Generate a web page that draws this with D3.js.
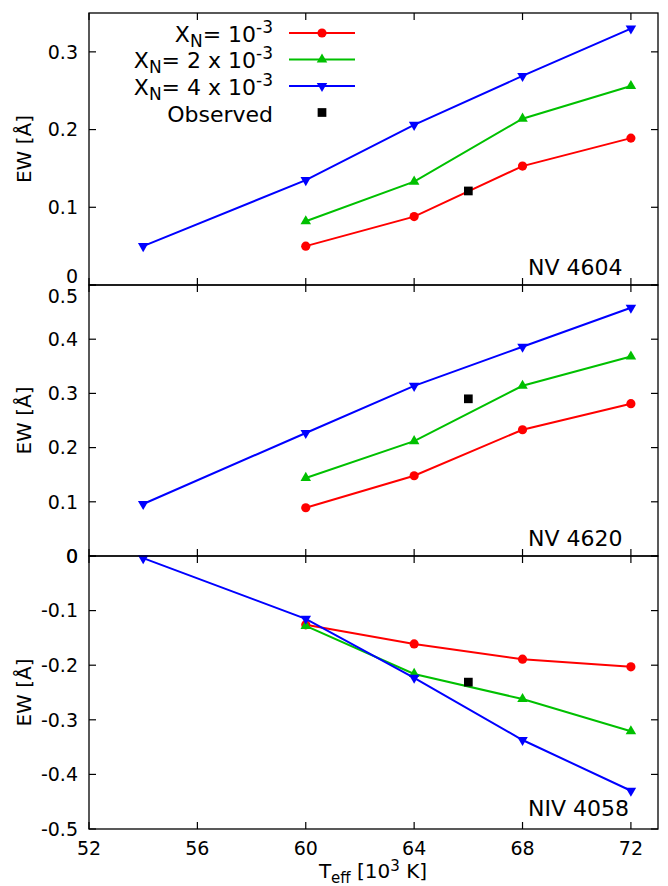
<!DOCTYPE html>
<html>
<head>
<meta charset="utf-8">
<script src="https://cdn.jsdelivr.net/npm/d3@7"></script>
<style>
  body { margin: 0; background: #fff; }
  text { font-family: "DejaVu Sans", sans-serif; fill: #000; }
</style>
</head>
<body>
<div id="chart"></div>
<script>
// temperatures (10^3 K)
const teffModel = [60, 64, 68, 72];
const teffHot = [54, 60, 64, 68, 72];
const teffObs = 66;
const xTicks = [52, 56, 60, 64, 68, 72];

// NV 4604
const nv4604_1 = [0.050, 0.088, 0.153, 0.189];
const nv4604_2 = [0.082, 0.133, 0.214, 0.256];
const nv4604_4 = [0.050, 0.135, 0.206, 0.269, 0.330];
const nv4604_obs = 0.121;

// NV 4620
const nv4620_1 = [0.089, 0.148, 0.233, 0.281];
const nv4620_2 = [0.144, 0.212, 0.314, 0.368];
const nv4620_4 = [0.096, 0.227, 0.314, 0.386, 0.458];
const nv4620_obs = 0.290;

// NIV 4058
const niv4058_1 = [-0.126, -0.161, -0.189, -0.203];
const niv4058_2 = [-0.128, -0.216, -0.262, -0.321];
const niv4058_4 = [-0.004, -0.115, -0.223, -0.337, -0.430];
const niv4058_obs = -0.231;

const panelNames = ["NV 4604", "NV 4620", "NIV 4058"];
const yDomains = [[0, 0.35], [0, 0.5], [-0.5, 0]];
const yTicks = [[0, 0.1, 0.2, 0.3], [0, 0.1, 0.2, 0.3, 0.4, 0.5], [-0.5, -0.4, -0.3, -0.2, -0.1, 0]];
const legendNames = ["10", "2 x 10", "4 x 10"];

const panels = [
  {name: panelNames[0], dom: yDomains[0], ticks: yTicks[0], s1: nv4604_1, s2: nv4604_2, s4: nv4604_4, obs: nv4604_obs},
  {name: panelNames[1], dom: yDomains[1], ticks: yTicks[1], s1: nv4620_1, s2: nv4620_2, s4: nv4620_4, obs: nv4620_obs},
  {name: panelNames[2], dom: yDomains[2], ticks: yTicks[2], s1: niv4058_1, s2: niv4058_2, s4: niv4058_4, obs: niv4058_obs}
];

var width = 668, height = 886;
var left = 89, right = 658;
var bounds = [[13, 285], [285, 556], [556, 829]];
var colors = ["#ff0000", "#00c000", "#0000ff"];

var svg = d3.select("#chart").append("svg")
  .attr("width", width)
  .attr("height", height);

const x = d3.scaleLinear().domain([52, 73]).range([left, right]);

const circle = d3.symbol().type(d3.symbolCircle).size(66);
const tri = d3.symbol().type(d3.symbolTriangle).size(48);
const square = d3.symbol().type(d3.symbolSquare).size(76);

function drawSeries(g, xs, ys, y, color, marker, rot) {
  const pts = xs.map((t, i) => [t, ys[i]]);
  g.append("path")
    .datum(pts)
    .attr("fill", "none")
    .attr("stroke", color)
    .attr("stroke-width", 2)
    .attr("d", d3.line().x(d => x(d[0])).y(d => y(d[1])));
  g.selectAll(null)
    .data(pts)
    .join("path")
    .attr("d", marker)
    .attr("fill", color)
    .attr("transform", d => `translate(${x(d[0])},${y(d[1])}) rotate(${rot})`);
}

panels.forEach((p, k) => {
  const [top, bottom] = bounds[k];
  const y = d3.scaleLinear().domain(p.dom).range([bottom, top]);
  const g = svg.append("g");

  // ticks on all sides, pointing inward
  xTicks.forEach(t => {
    g.append("line").attr("x1", x(t)).attr("x2", x(t)).attr("y1", bottom).attr("y2", bottom - 7)
      .attr("stroke", "#000").attr("stroke-width", 1.2);
    g.append("line").attr("x1", x(t)).attr("x2", x(t)).attr("y1", top).attr("y2", top + 7)
      .attr("stroke", "#000").attr("stroke-width", 1.2);
  });
  p.ticks.forEach(t => {
    g.append("line").attr("x1", left).attr("x2", left + 7).attr("y1", y(t)).attr("y2", y(t))
      .attr("stroke", "#000").attr("stroke-width", 1.2);
    g.append("line").attr("x1", right).attr("x2", right - 7).attr("y1", y(t)).attr("y2", y(t))
      .attr("stroke", "#000").attr("stroke-width", 1.2);
    let dy = 0;
    if (k === 0 && t === 0) dy = -9;
    if (k === 1 && t === 0.5) dy = 11;
    g.append("text")
      .attr("x", 78).attr("y", y(t) + dy).attr("dy", "0.36em")
      .attr("text-anchor", "end").attr("font-size", 19)
      .text(String(t));
  });

  g.append("text")
    .attr("transform", `translate(31,${(top + bottom) / 2}) rotate(-90)`)
    .attr("text-anchor", "middle").attr("font-size", 20)
    .text("EW [Å]");

  drawSeries(g, teffModel, p.s1, y, colors[0], circle, 0);
  drawSeries(g, teffModel, p.s2, y, colors[1], tri, 0);
  drawSeries(g, teffHot, p.s4, y, colors[2], tri, 180);

  g.append("path").attr("d", square).attr("fill", "#000")
    .attr("transform", `translate(${x(teffObs)},${y(p.obs)})`);

  g.append("text")
    .attr("x", 528).attr("y", bottom - (k === 2 ? 13 : 10))
    .attr("font-size", 22)
    .text(p.name);

  g.append("rect")
    .attr("x", left).attr("y", top)
    .attr("width", right - left).attr("height", bottom - top)
    .attr("fill", "none").attr("stroke", "#000").attr("stroke-width", 1.3);
});

// x axis labels
xTicks.forEach(t => {
  svg.append("text")
    .attr("x", x(t)).attr("y", 855)
    .attr("text-anchor", "middle").attr("font-size", 19)
    .text(t);
});

const xl = svg.append("text")
  .attr("x", 373).attr("y", 878)
  .attr("text-anchor", "middle").attr("font-size", 20);
xl.append("tspan").text("T");
xl.append("tspan").attr("font-size", 15).attr("dy", 5).text("eff");
xl.append("tspan").attr("dy", -5).text(" [10");
xl.append("tspan").attr("font-size", 15).attr("dy", -7).text("3");
xl.append("tspan").attr("dy", 7).text(" K]");

// legend
const ly = [33, 59.5, 86];
const markers = [[circle, 0], [tri, 0], [tri, 180]];
legendNames.forEach((name, i) => {
  const t = svg.append("text")
    .attr("x", 273).attr("y", ly[i] + 8.5)
    .attr("text-anchor", "end").attr("font-size", 22);
  t.append("tspan").text("X");
  t.append("tspan").attr("font-size", 17).attr("dy", 5).text("N");
  t.append("tspan").attr("dy", -5).text("= " + name);
  t.append("tspan").attr("font-size", 17).attr("dy", -9).text("-3");
  svg.append("line")
    .attr("x1", 289).attr("x2", 355).attr("y1", ly[i]).attr("y2", ly[i])
    .attr("stroke", colors[i]).attr("stroke-width", 2);
  svg.append("path").attr("d", markers[i][0]).attr("fill", colors[i])
    .attr("transform", `translate(322,${ly[i]}) rotate(${markers[i][1]})`);
});
svg.append("text")
  .attr("x", 273).attr("y", 121.5)
  .attr("text-anchor", "end").attr("font-size", 22)
  .text("Observed");
svg.append("path").attr("d", square).attr("fill", "#000")
  .attr("transform", "translate(322,112.5)");
</script>
</body>
</html>
